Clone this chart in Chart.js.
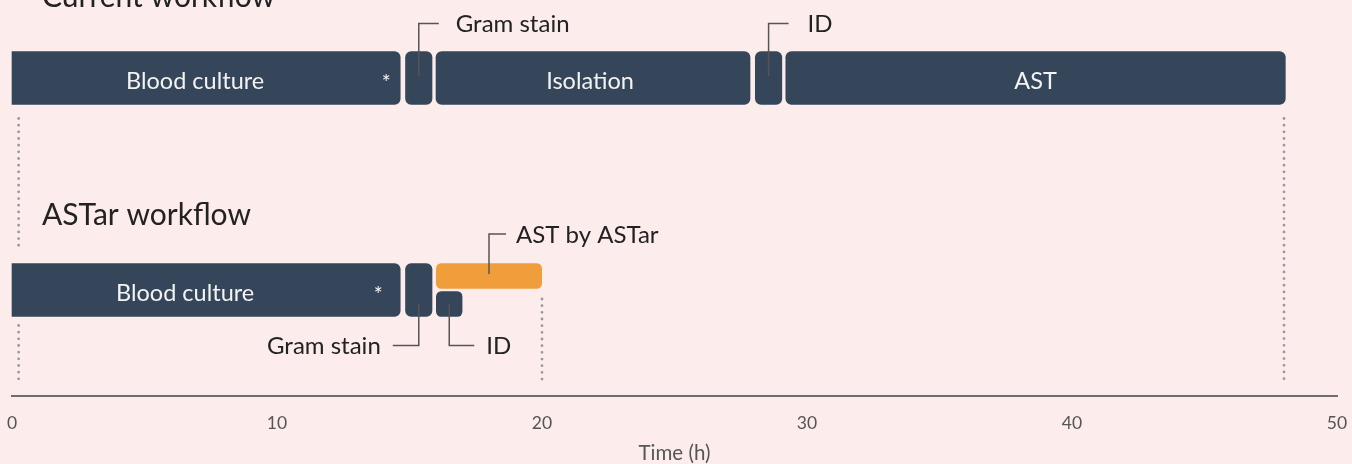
<!DOCTYPE html>
<html>
<head>
<meta charset="utf-8">
<script src="https://cdn.jsdelivr.net/npm/chart.js@4/dist/chart.umd.min.js"></script>
<style>
  html, body { margin: 0; padding: 0; background: #fcedec; overflow: hidden; }
  #wrap { width: 1352px; height: 464px; position: relative; overflow: hidden; }
  #c { position: absolute; left: 0; top: -28px; }
</style>
</head>
<body>
<div id="wrap"><canvas id="c" width="1352" height="492"></canvas></div>
<script>
// ---------------- data ----------------
const rows = ['Current workflow', 'ASTar workflow'];
const bloodCulture = [[0, 14.65], [0, 14.65]];
const gramStain    = [[14.85, 15.85], [14.85, 15.85]];
const isolation    = [[16.0, 27.85], null];
const idCurrent    = [[28.05, 29.05], null];
const astCurrent   = [[29.2, 48.05], null];
const astByASTar   = [null, [16.0, 20.0]];
const idASTar      = [null, [16.0, 17.0]];
const referenceLines = [0.25, 20, 48];      // dotted markers (h)
const referenceFromRow = [0, 1, 0];         // first row each marker spans
const xTicks = [0, 10, 20, 30, 40, 50];
const xTitle = 'Time (h)';

// ---------------- styles ----------------
const DARK = '#35465a', ORANGE = '#f09d3c', BG = '#fcedec';
const FONT = 'Lato, "Open Sans", sans-serif';

function fullBar(label, data, extra) {
  return Object.assign({
    label, data, backgroundColor: DARK, grouped: false, barThickness: 53,
    borderRadius: 6, borderSkipped: false, borderWidth: 0, clip: false
  }, extra || {});
}
function halfBar(label, data, color, stack) {
  return {
    label, data, backgroundColor: color, borderColor: BG, stack,
    borderWidth: {top: 1.5, bottom: 1.5, left: 0, right: 0},
    barThickness: 28, borderRadius: 7, borderSkipped: false, clip: false
  };
}

const annotate = {
  id: 'annotate',
  beforeDraw(chart) {
    const c = chart.ctx;
    c.save();
    c.fillStyle = BG;
    c.fillRect(0, 0, chart.width, chart.height);
    c.restore();
  },
  afterDatasetsDraw(chart) {
    const c = chart.ctx;
    const xs = chart.scales.x, ys = chart.scales.y;
    const area = chart.chartArea;
    const el = (d, i) => chart.getDatasetMeta(d).data[i];
    const rowC = i => ys.getPixelForValue(i);
    const half = 26.5;

    c.save();
    // section titles
    c.fillStyle = '#222';
    c.font = '30px ' + FONT;
    c.textAlign = 'left';
    c.textBaseline = 'alphabetic';
    c.fillText(rows[0], 42, rowC(0) - half - 45);
    c.fillText(rows[1], 42, rowC(1) - half - 38.5);

    // labels inside bars
    c.fillStyle = '#f3f3f3';
    c.textBaseline = 'middle';
    c.textAlign = 'center';
    c.font = '23.5px ' + FONT;
    const inner = [[0, 0, -11], [0, 1, -21], [2, 0, -3], [4, 0, 0]];
    inner.forEach(([d, i, off]) => {
      const b = el(d, i);
      const name = chart.data.datasets[d].label;
      c.fillText(name, (b.x + b.base) / 2 + off, b.y + 3);
    });
    c.font = '21px ' + FONT;
    [[0, 14], [1, 22]].forEach(([i, off]) => {
      const b = el(0, i);
      c.fillText('*', Math.max(b.x, b.base) - off, b.y + 5);
    });

    // callouts
    c.strokeStyle = '#555';
    c.lineWidth = 1.5;
    c.fillStyle = '#222';
    c.font = '24px ' + FONT;
    const callouts = [
      {d: 1, i: 0, dir: 'up', len: 20, gap: 17},
      {d: 3, i: 0, dir: 'up', len: 20, gap: 19},
      {d: 5, i: 1, dir: 'up', len: 17, gap: 10},
      {d: 1, i: 1, dir: 'left', len: 26, gap: 12},
      {d: 6, i: 1, dir: 'right', len: 25, gap: 12}
    ];
    callouts.forEach(co => {
      const b = el(co.d, co.i);
      const text = chart.data.datasets[co.d].label;
      const cx = (b.x + b.base) / 2;
      c.beginPath();
      if (co.dir === 'up') {
        const y0 = b.y - 2, y1 = b.y - b.height / 2 - 28;
        c.moveTo(cx, y0); c.lineTo(cx, y1); c.lineTo(cx + co.len, y1);
        c.stroke();
        c.textAlign = 'left';
        c.fillText(text, cx + co.len + co.gap, y1 + 1);
      } else {
        const y0 = rowC(co.i) + 14, y1 = rowC(co.i) + half + 29;
        const dx = co.dir === 'left' ? -co.len : co.len;
        c.moveTo(cx, y0); c.lineTo(cx, y1); c.lineTo(cx + dx, y1);
        c.stroke();
        c.textAlign = co.dir === 'left' ? 'right' : 'left';
        c.fillText(text, cx + dx + (co.dir === 'left' ? -co.gap : co.gap), y1 + 1);
      }
    });

    // dotted reference lines
    c.strokeStyle = '#999';
    c.lineWidth = 2.8;
    c.lineCap = 'round';
    c.setLineDash([0, 6.67]);
    const metas = chart.data.datasets.map((_, d) => chart.getDatasetMeta(d));
    referenceLines.forEach((v, k) => {
      const x = xs.getPixelForValue(v);
      const fromRow = referenceFromRow[k];
      let yStart = fromRow === 0 ? rowC(0) + half + 14 : rowC(1) - half - 15;
      const yEnd = area.bottom - 15;
      const blocks = [];
      metas.forEach(m => m.data.forEach(b => {
        if (!b || b.skip || isNaN(b.x)) return;
        const lo = Math.min(b.x, b.base), hi = Math.max(b.x, b.base);
        if (x >= lo - 1 && x <= hi + 1) {
          blocks.push([b.y - b.height / 2 - 15, b.y + b.height / 2 + 9]);
        }
      }));
      blocks.sort((a, b2) => a[0] - b2[0]);
      let y = yStart;
      const segs = [];
      blocks.forEach(([t, bt]) => {
        if (bt <= y) return;
        if (t > y) segs.push([y, Math.min(t, yEnd)]);
        y = Math.max(y, bt);
      });
      if (y < yEnd) segs.push([y, yEnd]);
      segs.forEach(([a, b2]) => {
        c.beginPath(); c.moveTo(x, a); c.lineTo(x, b2); c.stroke();
      });
    });
    c.restore();
  }
};

new Chart(document.getElementById('c'), {
  type: 'bar',
  data: {
    labels: rows,
    datasets: [
      fullBar('Blood culture', bloodCulture, {borderRadius: {topLeft: 0, bottomLeft: 0, topRight: 6, bottomRight: 6}}),
      fullBar('Gram stain', gramStain),
      fullBar('Isolation', isolation),
      fullBar('ID', idCurrent),
      fullBar('AST', astCurrent),
      halfBar('AST by ASTar', astByASTar, ORANGE, 'top'),
      halfBar('ID', idASTar, DARK, 'bottom')
    ]
  },
  options: {
    indexAxis: 'y',
    responsive: false,
    animation: false,
    devicePixelRatio: 1,
    layout: {padding: {top: 0, left: 12, right: 15, bottom: 0}},
    plugins: {legend: {display: false}, tooltip: {enabled: false}},
    scales: {
      x: {
        type: 'linear', min: 0, max: 50, position: 'bottom',
        afterBuildTicks: s => { s.ticks = xTicks.map(v => ({value: v})); },
        afterFit: s => {
          s.height = 68;
          s.paddingLeft = 0; s.paddingRight = 0; s.paddingTop = 0; s.paddingBottom = 0;
        },
        grid: {display: false, drawTicks: false},
        border: {display: true, color: '#6e6e6e', width: 2},
        ticks: {padding: 17, color: '#555', font: {family: FONT, size: 17.5}, maxRotation: 0, autoSkip: false},
        title: {display: true, text: xTitle, color: '#555', font: {family: FONT, size: 20.5, lineHeight: 1}, padding: {top: 0, bottom: 0}}
      },
      y: {type: 'category', display: false, offset: true}
    }
  },
  plugins: [annotate]
});
</script>
</body>
</html>
